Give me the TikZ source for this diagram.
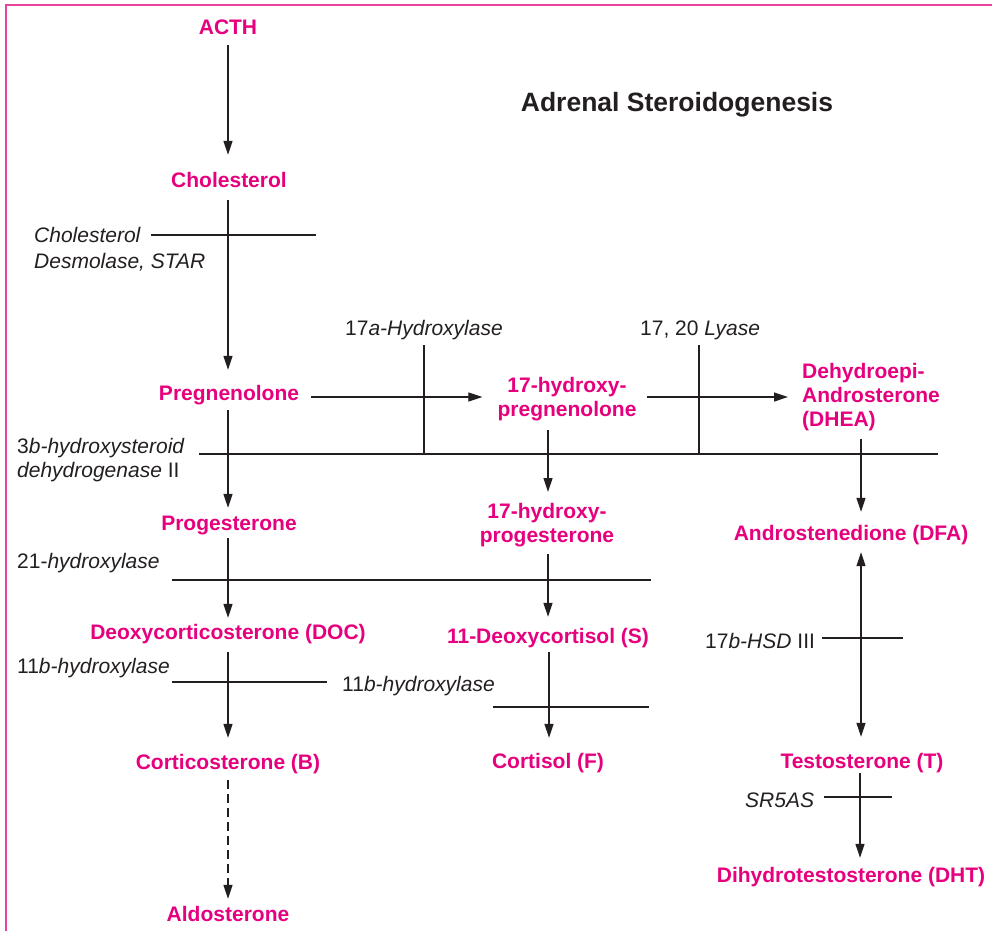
\documentclass[tikz,border=0pt]{standalone}
\usepackage{fontspec}
\setmainfont{Liberation Sans}
\usetikzlibrary{arrows.meta,calc}
\definecolor{mag}{RGB}{230,0,126}
\definecolor{framec}{RGB}{232,68,158}
\definecolor{ink}{RGB}{35,31,32}
\begin{document}
\begin{tikzpicture}[x=1pt,y=-1pt,
  chem/.style={text=mag,font=\fontsize{21}{24}\selectfont\bfseries,inner sep=0pt,text height=15pt,text depth=0pt,anchor=base},
  chemm/.style={text=mag,font=\fontsize{21}{24}\selectfont\bfseries,inner sep=0pt,anchor=north,align=center},
  lab/.style={text=ink,font=\fontsize{21}{24}\selectfont,inner sep=0pt,anchor=base west},
  tip/.tip={Triangle[length=14pt,width=9pt]},
  arr/.style={draw=ink,line width=1.2pt,-tip},
  dbl/.style={draw=ink,line width=1.2pt,tip-tip},
  bar/.style={draw=ink,line width=1.2pt}]
\useasboundingbox (0,0) rectangle (992,931);
\draw[framec,line width=2pt] (6,931) -- (6,5) -- (992,5);

% title
\node[text=ink,font=\fontsize{26.5}{30}\selectfont\bfseries,inner sep=0pt,anchor=base] (title) at (677,112) {Adrenal Steroidogenesis};

% compounds
\node[chem] (acth) at (228,35) {ACTH};
\node[chem] (chol) at (229,187) {Cholesterol};
\node[chem] (preg) at (229,400) {Pregnenolone};
\node[chem] (prog) at (229,530) {Progesterone};
\node[chem] (doc) at (228,639) {Deoxycorticosterone (DOC)};
\node[chem] (cort) at (228,769) {Corticosterone (B)};
\node[chem] (aldo) at (228,921) {Aldosterone};
\node[chemm] (ohpreg) at (567,377) {17-hydroxy-\\pregnenolone};
\node[chemm] (ohprog) at (547,503) {17-hydroxy-\\progesterone};
\node[chemm,anchor=north west,align=left] (dhea) at (802,363) {Dehydroepi-\\Androsterone\\(DHEA)};
\node[chem] (deox) at (548,643) {11-Deoxycortisol (S)};
\node[chem] (cortisol) at (548,768) {Cortisol (F)};
\node[chem] (andro) at (851,540) {Androstenedione (DFA)};
\node[chem] (testo) at (862,768) {Testosterone (T)};
\node[chem] (dht) at (851,882) {Dihydrotestosterone (DHT)};

% enzyme labels
\node[lab,anchor=north west,align=left,font=\fontsize{21}{26}\selectfont\itshape] (e1) at (34,227) {Cholesterol\\Desmolase, STAR};
\node[lab] (e2) at (345,335) {17\textit{a-Hydroxylase}};
\node[lab] (e3) at (640,335) {17, 20 \textit{Lyase}};
\node[lab,anchor=north west,align=left] (e4) at (17,438) {3\textit{b-hydroxysteroid}\\\textit{dehydrogenase} II};
\node[lab] (e5) at (17,568) {21-\textit{hydroxylase}};
\node[lab] (e6) at (17,673) {11\textit{b-hydroxylase}};
\node[lab] (e7) at (342,691) {11\textit{b-hydroxylase}};
\node[lab] (e8) at (705,648) {17\textit{b-HSD} III};
\node[lab] (e9) at (745,807) {\textit{SR5AS}};

% helper coordinates
\coordinate (xA) at (228,0);
\coordinate (xB) at (548,0);
\coordinate (xB2) at (549,0);
\coordinate (xC) at (861,0);
\coordinate (xC2) at (860,0);
\coordinate (yH) at (0,397);

% arrows
\draw[arr,shorten <=10pt,shorten >=17pt] (acth.south -| xA) -- (chol.north -| xA);
\draw[arr,shorten <=13pt,shorten >=15pt] (chol.south -| xA) -- (preg.north -| xA);
\draw[arr,shorten <=10pt,shorten >=7pt] (preg.south -| xA) -- (prog.north -| xA);
\draw[arr,shorten <=8pt,shorten >=6pt] (prog.south -| xA) -- (doc.north -| xA);
\draw[arr,shorten <=13pt,shorten >=16pt] (doc.south -| xA) -- (cort.north -| xA);
\draw[arr,dash pattern=on 9pt off 5pt,shorten <=11pt,shorten >=7pt] (cort.south -| xA) -- (aldo.north -| xA);

\draw[arr,shorten <=12pt,shorten >=15pt] (preg.east |- yH) -- (ohpreg.west |- yH);
\draw[arr,shorten <=10pt,shorten >=14pt] (ohpreg.east |- yH) -- (dhea.west |- yH);

\draw[arr,shorten <=9pt,shorten >=11pt] (ohpreg.south -| xB) -- (ohprog.north -| xB);
\draw[arr,shorten <=7pt,shorten >=11pt] (ohprog.south -| xB) -- (deox.north -| xB);
\draw[arr,shorten <=9pt,shorten >=15pt] (deox.south -| xB2) -- (cortisol.north -| xB2);

\draw[arr,shorten <=8pt,shorten >=13pt] (dhea.south -| xC) -- (andro.north -| xC);
\draw[dbl,shorten <=12pt,shorten >=16pt] (andro.south -| xC) -- (testo.north -| xC);
\draw[arr,shorten <=5pt,shorten >=9pt] (testo.south -| xC2) -- (dht.north -| xC2);

% enzyme bars
\coordinate (b1a) at (151,235); \coordinate (b1b) at (316,235);
\coordinate (b2a) at (424,345); \coordinate (b2b) at (424,454);
\coordinate (b3a) at (699,345); \coordinate (b3b) at (699,454);
\coordinate (b4a) at (199,454); \coordinate (b4b) at (938,454);
\coordinate (b5a) at (172,580); \coordinate (b5b) at (651,580);
\coordinate (b6a) at (172,682); \coordinate (b6b) at (327,682);
\coordinate (b7a) at (493,707); \coordinate (b7b) at (649,707);
\coordinate (b8a) at (822,638); \coordinate (b8b) at (903,638);
\coordinate (b9a) at (824,797); \coordinate (b9b) at (892,797);
\draw[bar] (b1a) -- (b1b);
\draw[bar] (b2a) -- (b2b);
\draw[bar] (b3a) -- (b3b);
\draw[bar] (b4a) -- (b4b);
\draw[bar] (b5a) -- (b5b);
\draw[bar] (b6a) -- (b6b);
\draw[bar] (b7a) -- (b7b);
\draw[bar] (b8a) -- (b8b);
\draw[bar] (b9a) -- (b9b);
\end{tikzpicture}
\end{document}
